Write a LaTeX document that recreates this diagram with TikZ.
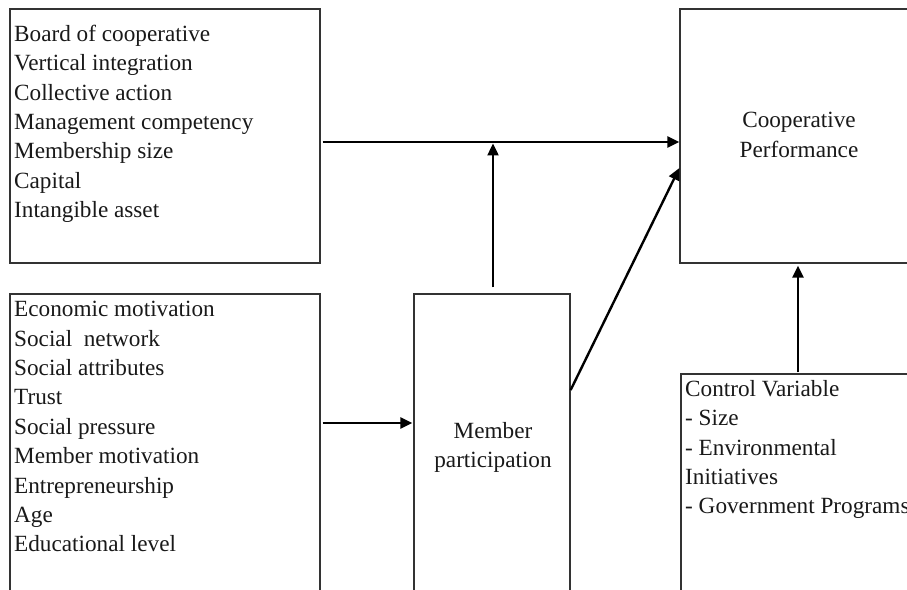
\documentclass[tikz,border=0pt]{standalone}
\usepackage{fontspec}
\setmainfont{Liberation Serif}
\usetikzlibrary{arrows.meta}
\tikzset{
  boxnode/.style={draw=black!80, line width=1.3bp, rectangle, inner sep=0, fill=none},
  listtext/.style={anchor=north west, inner sep=0, align=left, font=\fontsize{23.3}{29.5}\selectfont, text=black!90},
  centertext/.style={anchor=north, inner sep=0, align=center, font=\fontsize{23.3}{29.5}\selectfont, text=black!90},
  arr/.style={line width=2.4bp, black, -{Triangle[length=12bp,width=11bp]}}
}
\begin{document}
\begin{tikzpicture}[x=1bp,y=-1bp]
\useasboundingbox (0,0) rectangle (907,590);
\clip (0,0) rectangle (907,590);
\fill[white] (0,0) rectangle (907,590);
% boxes
\node[boxnode, minimum width=310bp, minimum height=254bp] (b1) at (165,136) {};
\node[boxnode, minimum width=310bp, minimum height=326bp] (b2) at (165,457) {};
\node[boxnode, minimum width=156bp, minimum height=326bp] (mp) at (492,457) {};
\node[boxnode, minimum width=260bp, minimum height=254bp] (cp) at (810,136) {};
\node[boxnode, minimum width=259bp, minimum height=246bp] (cv) at (810.5,497) {};
% texts
\node[listtext] (t1) at (14,24.8) {Board of cooperative\\Vertical integration\\Collective action\\Management competency\\Membership size\\Capital\\Intangible asset};
\node[listtext] (t2) at (14,301.1) {Economic motivation\\Social\ \ network\\Social attributes\\Trust\\Social pressure\\Member motivation\\Entrepreneurship\\Age\\Educational level};
\node[listtext] (t5) at (685,380.1) {Control Variable\\- Size\\- Environmental\\Initiatives\\- Government Programs};
\node[centertext] (t3) at (493,422.1) {Member\\participation};
\node[centertext] (t4) at (799,112.1) {Cooperative\\Performance};
% connectors
\coordinate (j) at (493,143.5);
\draw[arr, shorten <=2bp] ([yshift=-6bp]b1.east) -- ([yshift=-6bp]cp.west);
\draw[arr, shorten <=6bp] ([xshift=1bp]mp.north) -- (j);
\draw[arr] ([yshift=67bp]mp.east) -- ([yshift=-32bp]cp.west);
\draw[arr, shorten <=2bp, shorten >=1bp] ([yshift=34bp]b2.east) -- ([yshift=34bp]mp.west);
\draw[arr, shorten <=1bp, shorten >=2bp] ([xshift=-12.5bp]cv.north) -- ([xshift=-12.5bp]cv.north |- cp.south);
\end{tikzpicture}
\end{document}
